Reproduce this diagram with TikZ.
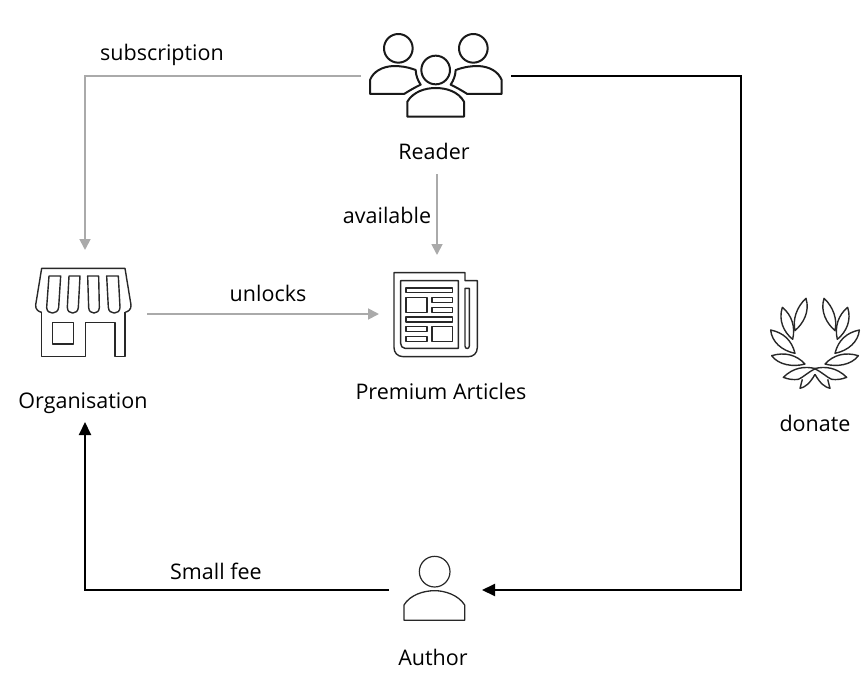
\documentclass[tikz,border=0pt]{standalone}
\usepackage{fontspec}
\setmainfont{Open Sans}
\usetikzlibrary{arrows.meta}
\definecolor{flowgray}{RGB}{170,170,170}
\definecolor{icon}{RGB}{40,40,40}
\tikzset{
  lbl/.style={inner sep=0pt,anchor=base,font=\fontsize{21.5}{26}\selectfont,text=black},
  anchorbox/.style={inner sep=0pt,outer sep=0pt},
  glink/.style={draw=flowgray,line width=1.8pt,-{Triangle[length=11pt,width=11pt]}},
  blink/.style={draw=black,line width=2pt,-{Triangle[length=13pt,width=12pt]}},
  ic/.style={draw=icon,line width=1.4pt,line join=round,fill=none},
  icthick/.style={draw=black!90,line width=2pt,line join=round,fill=none},
  zoomed/.style={x=0.33333pt,y=-0.33333pt},
}
\newcommand{\leafpair}[1]{%
  \draw[ic,#1] (153,25) .. controls (125,50) and (112,90) .. (120,122) .. controls (145,100) and (165,65) .. cycle;
  \draw[ic,#1] (82,52) .. controls (70,90) and (85,125) .. (113,148) .. controls (122,110) and (110,75) .. cycle;
  \draw[ic,#1] (47,120) .. controls (50,155) and (80,182) .. (120,190) .. controls (110,150) and (85,128) .. cycle;
  \draw[ic,#1] (50,197) .. controls (70,225) and (115,232) .. (150,222) .. controls (125,195) and (90,185) .. cycle;
  \draw[ic,#1] (85,262) .. controls (115,232) and (150,228) .. (182,236) .. controls (160,245) and (145,262) .. (130,268) .. controls (115,270) and (100,268) .. cycle;
  \draw[ic,#1] (142,268) -- (135,295) .. controls (150,292) and (165,280) .. (180,253);
}
\begin{document}
\begin{tikzpicture}[x=1pt,y=-1pt]
\useasboundingbox (0,0) rectangle (868,685);
% anchor nodes of the icons
\node[anchorbox,minimum width=150pt,minimum height=60pt] (reader) at (436,76) {};
\node[anchorbox,minimum width=124pt,minimum height=128pt] (store) at (85,314) {};
\node[anchorbox,minimum width=116pt,minimum height=118pt] (news) at (437,314) {};
\node[anchorbox,minimum width=93pt,minimum height=60pt] (author) at (435.5,590) {};
\node[anchorbox,minimum width=90pt,minimum height=90pt] (laurel) at (815,340) {};
% labels
\node[lbl] (lreader) at (434,159) {Reader};
\node[lbl] (lavail) at (387,223) {available};
\node[lbl] (lsub) at (162,61) {subscription};
\node[lbl] (lunlock) at (268,301) {unlocks};
\node[lbl] (lorg) at (83,408) {Organisation};
\node[lbl] (lprem) at (441,399) {Premium Articles};
\node[lbl] (ldonate) at (815,431) {donate};
\node[lbl] (lfee) at (216,579) {Small fee};
\node[lbl] (lauthor) at (433,665) {Author};
\coordinate (availstart) at (437,174);
\coordinate (feeend) at (85,422);
\coordinate (rightturn) at (741,76);
% connectors
\draw[glink] (reader.west) -| (store.north);
\draw[glink] (availstart) -- (news.north);
\draw[glink] (store.east) -- (news.west);
\draw[blink] (reader.east) -- (rightturn) |- (author.east);
\draw[blink] (author.west) -| (feeend);
% reader icon
\begin{scope}[shift={(350,20)},zoomed]
  \draw[icthick] (145,85) circle[radius=43];
  \draw[icthick] (370,85) circle[radius=43];
  \draw[icthick] (257,150) circle[radius=43];
  \draw[icthick] (172,290) -- (172,245) .. controls (190,215) and (225,204) .. (257,204) .. controls (290,204) and (325,215) .. (342,245) -- (342,290) -- cycle;
  \draw[icthick] (197,150) .. controls (170,140) and (150,138) .. (130,138) .. controls (95,140) and (70,155) .. (60,180) -- (60,222) -- (162,222) .. controls (178,212) and (195,202) .. (212,194) .. controls (203,180) and (198,168) .. cycle;
  \draw[icthick] (317,150) .. controls (345,140) and (365,138) .. (385,138) .. controls (420,140) and (445,155) .. (455,180) -- (455,222) -- (352,222) .. controls (336,212) and (319,202) .. (302,194) .. controls (311,180) and (316,168) .. cycle;
\end{scope}
% store icon
\begin{scope}[shift={(20,250)},zoomed]
  \draw[ic] (47,165) -- (65,55) -- (315,55) -- (333,165) .. controls (334,178) and (325,185) .. (315,187);
  \draw[ic] (47,165) .. controls (46,178) and (55,185) .. (65,187);
  \draw[ic] (87,78) -- (122,78) -- (116,172) .. controls (114,195) and (80,195) .. (80,172) -- cycle;
  \draw[ic] (147,78) -- (180,78) -- (175,172) .. controls (174,195) and (142,195) .. (142,172) -- cycle;
  \draw[ic] (203,78) -- (236,78) -- (238,172) .. controls (238,195) and (206,195) .. (206,172) -- cycle;
  \draw[ic] (260,78) -- (295,78) -- (300,172) .. controls (300,195) and (266,195) .. (265,172) -- cycle;
  \draw[ic] (65,187) -- (65,320) -- (197,320) -- (197,218) -- (285,218) -- (285,320) -- (315,320) -- (315,187);
  \draw[ic] (97,218) rectangle (160,282);
\end{scope}
% newspaper icon
\begin{scope}[shift={(380,260)},zoomed]
  \draw[ic] (42,38) -- (255,38) -- (255,62) -- (292,62) -- (292,262) .. controls (292,280) and (280,290) .. (265,290) -- (70,290) .. controls (52,290) and (42,278) .. (42,262) -- cycle;
  \draw[ic] (62,62) -- (235,62) -- (235,265) -- (75,265) .. controls (67,265) and (62,258) .. (62,250) -- cycle;
  \draw[ic] (255,85) -- (268,85) -- (268,258) .. controls (268,268) and (255,268) .. (255,258) -- cycle;
  \draw[ic] (78,84) rectangle (218,98);
  \draw[ic] (78,113) rectangle (141,157);
  \draw[ic] (156,113) rectangle (218,127);
  \draw[ic] (156,142) rectangle (218,157);
  \draw[ic] (78,171) rectangle (218,186);
  \draw[ic] (78,200) rectangle (141,214);
  \draw[ic] (78,229) rectangle (141,244);
  \draw[ic] (156,200) rectangle (218,244);
\end{scope}
% laurel icon
\begin{scope}[shift={(755,290)},zoomed]
  \leafpair{}
\end{scope}
\begin{scope}[shift={(755,290)},shift={(120,0)},x=-0.33333pt,y=-0.33333pt]
  \leafpair{}
\end{scope}
% author icon
\begin{scope}[shift={(380,545)},zoomed]
  \draw[ic,line width=1.2pt] (164,80) circle[radius=46];
  \draw[ic,line width=1.3pt] (72,226) -- (254,226) -- (254,180) .. controls (235,150) and (195,137) .. (164,137) .. controls (130,137) and (90,150) .. (72,180) -- cycle;
\end{scope}
\end{tikzpicture}
\end{document}
